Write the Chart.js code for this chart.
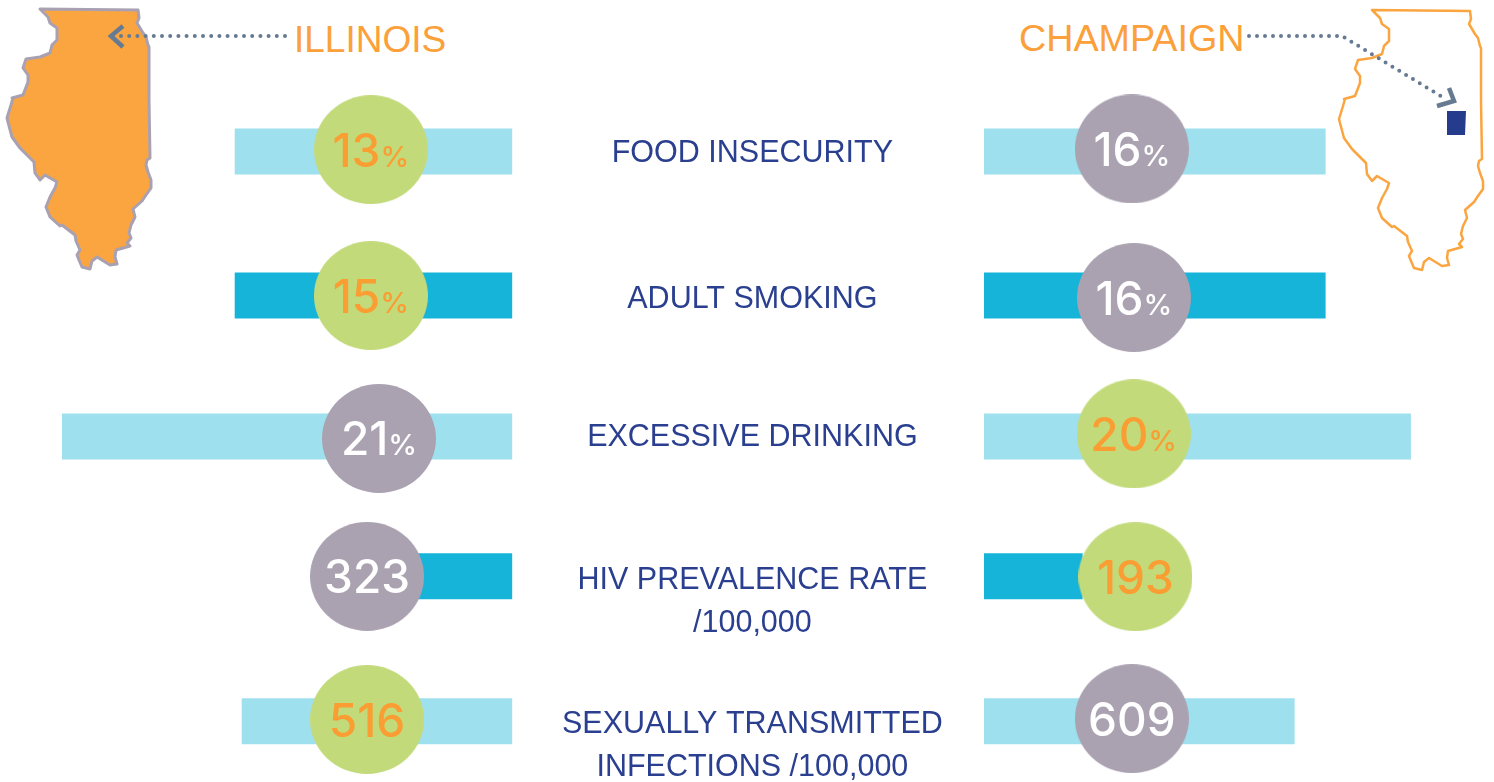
<!DOCTYPE html>
<html>
<head>
<meta charset="utf-8">
<title>Illinois vs Champaign</title>
<script src="https://cdn.jsdelivr.net/npm/chart.js@4/dist/chart.umd.js"></script>
<style>
  html, body { margin: 0; background: #fff; overflow: hidden; }
  #mapas { position: absolute; left: 0; top: 0; }
  #graficoIllinois { position: absolute; left: 0; top: 0; }
  #graficoChampaign { position: absolute; left: 984px; top: 0; }
  .titulo { font-family: "Liberation Sans", sans-serif; fill: #fba03a; }
</style>
</head>
<body>
<svg id="mapas" width="1494" height="782">
  <defs>
    <path id="estado" d="M40 9 L138 10 L139 18 L137 23 L143 33 L146 37 L148 45 L149 47 L149 100 L150 158 L147 160 L146 165 L148 172 L151 180 L151 188 L146 195 L142 201 L133 209 L135 217 L131 225 L129 233 L131 238 L127 243 L130 246 L116 250 L115 257 L117 264 L110 265 L97 257 L92 261 L90 269 L82 267 L79 260 L77 255 L80 250 L76 241 L75 235 L62 225 L60 226 L50 217 L46 207 L50 197 L55 188 L57 182 L45 175 L40 180 L35 173 L34 162 L20 148 L12 137 L8 122 L7 118 L11 105 L13 98 L12 98 L23 95 L28 82 L28 75 L23 68 L26 59 L40 57 L50 53 L52 45 L57 40 L57 28 L50 23 L48 17 Z"/>
  </defs>
  <use href="#estado" fill="#fba541" stroke="#a9a1b2" stroke-width="3" stroke-linejoin="round"/>
  <use href="#estado" x="1332" y="1" fill="none" stroke="#fba541" stroke-width="2.5" stroke-linejoin="round"/>
  <polygon points="1447,111 1466,111 1465,135 1447,135" fill="#253c8c"/>
  <path d="M285 36 L120 36" fill="none" stroke="#667b92" stroke-width="4" stroke-linecap="round" stroke-dasharray="0 8.2"/>
  <path d="M123 26 L111 36 L123 47" fill="none" stroke="#667b92" stroke-width="4.5"/>
  <path d="M1249 36 L1342 36 L1444 98" fill="none" stroke="#667b92" stroke-width="4" stroke-linecap="round" stroke-dasharray="0 8"/>
  <path d="M1449 88 L1454 101 L1437 106" fill="none" stroke="#667b92" stroke-width="4.5"/>
  <text class="titulo" x="294" y="52" font-size="37">ILLINOIS</text>
  <text class="titulo" x="1019" y="51" font-size="37.7">CHAMPAIGN</text>
</svg>
<canvas id="graficoIllinois" width="984" height="782"></canvas>
<canvas id="graficoChampaign" width="510" height="782"></canvas>

<script>
// linhas da tabela (a linha em branco deixa o primeiro texto centrado na barra)
const indicadores = [
  "FOOD INSECURITY",
  "ADULT SMOKING",
  "EXCESSIVE DRINKING",
  ["", "HIV PREVALENCE RATE", "/100,000"],
  ["", "SEXUALLY TRANSMITTED", "INFECTIONS /100,000"]
];
const unidades = ["%", "%", "%", "", ""];

// valores escritos nos circulos
const valoresIllinois = [13, 15, 21, 323, 516];
const valoresChampaign = [16, 16, 20, 193, 609];

// comprimento das barras (a de 15% foi desenhada igual a de 13%)
const barrasPctIllinois = [13, 13, 21.1];
const barrasTaxaIllinois = [323, 516];
const barrasPctChampaign = [16, 16, 20];
const barrasTaxaChampaign = [193, 609];

// posicao das linhas no eixo y
const linhasBarras = [1, 2.0105, 3, 3.981, 4.998];
const linhasTexto = [1.016, 2.038, 3.006, 4.012, 5.022];
const linhasCirculoIllinois = [0.987, 2.011, 3.014, 3.982, 4.986];
const linhasCirculoChampaign = [0.982, 2.025, 2.982, 3.984, 4.98];

// centro dos circulos, nas unidades do eixo de porcentagem
const centroIllinois = [6.63, 6.63, 6.25, 6.81, 6.81];
const centroChampaign = [6.93, 7.03, 7.02, 7.1, 6.93];

const corClara = "#9ee0ee";
const corForte = "#17b4d9";
const coresBarras = [corClara, corForte, corClara, corForte, corClara];

function criarCirculo(cor) {
  const c = document.createElement("canvas");
  c.width = 114;
  c.height = 109;
  const g = c.getContext("2d");
  g.fillStyle = cor;
  g.beginPath();
  g.ellipse(57, 54.5, 57, 54.5, 0, 0, Math.PI * 2);
  g.fill();
  return c;
}
const circuloVerde = criarCirculo("#c3da7b");
const circuloCinza = criarCirculo("#aaa2b1");

// o menor valor da linha fica verde
function ehMenor(valores, outros, i) {
  return valores[i] < outros[i];
}

const textoCirculos = {
  id: "textoCirculos",
  afterDatasetsDraw(chart, args, opts) {
    const ctx = chart.ctx;
    const pontos = chart.getDatasetMeta(0).data;
    ctx.save();
    ctx.textBaseline = "alphabetic";
    ctx.textAlign = "left";
    pontos.forEach((p, i) => {
      const numero = String(opts.valores[i]);
      ctx.fillStyle = ehMenor(opts.valores, opts.outros, i) ? "#fa9d33" : "#ffffff";
      ctx.font = "500 46px Inter";
      const largura = ctx.measureText(numero).width;
      ctx.font = "500 29px Inter";
      const larguraUnidade = ctx.measureText(unidades[i]).width;
      const inicio = p.x - (largura + larguraUnidade) / 2;
      ctx.font = "500 46px Inter";
      ctx.fillText(numero, inicio, p.y + 17);
      ctx.font = "500 29px Inter";
      ctx.fillText(unidades[i], inicio + largura, p.y + 17);
    });
    ctx.restore();
  }
};

function criarGrafico(id, cfg) {
  return new Chart(document.getElementById(id), {
    type: "bar",
    plugins: [textoCirculos],
    data: {
      datasets: [
        {
          type: "scatter",
          order: 0,
          clip: false,
          data: cfg.valores.map((v, i) => ({ x: cfg.centros[i], y: cfg.linhasCirculo[i] })),
          pointStyle: (c) => ehMenor(cfg.valores, cfg.outros, c.dataIndex) ? circuloVerde : circuloCinza
        },
        {
          order: 1,
          indexAxis: "y",
          grouped: false,
          barThickness: 45.5,
          backgroundColor: coresBarras.slice(0, 3),
          data: cfg.barrasPct.map((v, i) => ({ x: v, y: linhasBarras[i] }))
        },
        {
          order: 1,
          indexAxis: "y",
          xAxisID: "x2",
          grouped: false,
          barThickness: 45.5,
          backgroundColor: coresBarras.slice(3),
          data: cfg.barrasTaxa.map((v, i) => ({ x: v, y: linhasBarras[i + 3] }))
        }
      ]
    },
    options: {
      responsive: false,
      animation: false,
      events: [],
      layout: { padding: 0, autoPadding: false },
      plugins: {
        legend: { display: false },
        tooltip: { enabled: false },
        textoCirculos: { valores: cfg.valores, outros: cfg.outros }
      },
      scales: {
        // offset: false porque o tipo bar liga offset nos eixos por padrao
        x: { type: "linear", display: false, offset: false, reverse: cfg.invertido, min: 0, max: cfg.maxPct },
        x2: { type: "linear", axis: "x", display: false, offset: false, reverse: cfg.invertido, min: 0, max: cfg.maxTaxa },
        y: {
          type: "linear",
          display: cfg.mostrarTexto,
          offset: false,
          position: "right",
          reverse: true,
          min: -0.0632,
          max: 5.4246,
          grid: { display: false, drawTicks: false, offset: false },
          border: { display: false },
          afterBuildTicks: (s) => { s.ticks = linhasTexto.map((v) => ({ value: v })); },
          afterFit: (s) => {
            s.paddingTop = 0;
            s.paddingBottom = 0;
            if (cfg.mostrarTexto) s.width = 471.7;
          },
          ticks: {
            autoSkip: false,
            crossAlign: "center",
            padding: 49.7,
            color: "#2a3f8f",
            font: { family: "Liberation Sans", size: 30.5, lineHeight: 1.42 },
            callback: (v, i) => indicadores[i]
          }
        }
      }
    }
  });
}

criarGrafico("graficoIllinois", {
  valores: valoresIllinois,
  outros: valoresChampaign,
  barrasPct: barrasPctIllinois,
  barrasTaxa: barrasTaxaIllinois,
  centros: centroIllinois,
  linhasCirculo: linhasCirculoIllinois,
  invertido: true,
  maxPct: 24.02,
  maxTaxa: 978,
  mostrarTexto: true
});

criarGrafico("graficoChampaign", {
  valores: valoresChampaign,
  outros: valoresIllinois,
  barrasPct: barrasPctChampaign,
  barrasTaxa: barrasTaxaChampaign,
  centros: centroChampaign,
  linhasCirculo: linhasCirculoChampaign,
  invertido: false,
  maxPct: 23.91,
  maxTaxa: 1001,
  mostrarTexto: false
});
</script>
</body>
</html>
